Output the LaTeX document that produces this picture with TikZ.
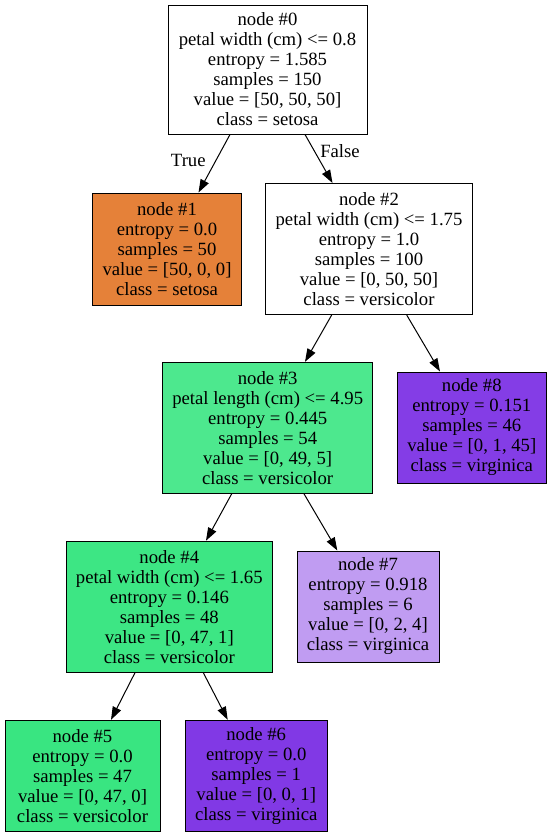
\documentclass[tikz,border=0pt]{standalone}
\usepackage{fontspec}
\setmainfont{Liberation Serif}
\usetikzlibrary{arrows.meta,calc}
\definecolor{cOrange}{HTML}{E58139}
\definecolor{cGreenA}{HTML}{4DE88E}
\definecolor{cGreenB}{HTML}{3DE684}
\definecolor{cGreenC}{HTML}{39E581}
\definecolor{cPurpleA}{HTML}{8139E5}
\definecolor{cPurpleB}{HTML}{C09CF2}
\definecolor{cPurpleC}{HTML}{843DE6}
\begin{document}
\begin{tikzpicture}[x=1pt,y=1pt,
  treenode/.style={draw=black, line width=1pt, rectangle, inner sep=0pt, align=center,
    font=\fontsize{18.7}{20}\selectfont},
  edge/.style={line width=1pt, -{Triangle[length=13pt,width=9pt]}},
  elabel/.style={font=\fontsize{18.7}{20}\selectfont, inner sep=0pt}]
\useasboundingbox (0,0) rectangle (552,-836);
\fill[white] (0,0) rectangle (552,-836);

\node[treenode, fill=white, minimum width=199pt, minimum height=129pt] (n0) at (267.5,-69.5)
  {node \#0\\petal width (cm) <= 0.8\\entropy = 1.585\\samples = 150\\value = [50, 50, 50]\\class = setosa};
\node[treenode, fill=cOrange, minimum width=149pt, minimum height=112pt] (n1) at (167,-249)
  {node \#1\\entropy = 0.0\\samples = 50\\value = [50, 0, 0]\\class = setosa};
\node[treenode, fill=white, minimum width=207pt, minimum height=131pt] (n2) at (369,-249)
  {node \#2\\petal width (cm) <= 1.75\\entropy = 1.0\\samples = 100\\value = [0, 50, 50]\\class = versicolor};
\node[treenode, fill=cGreenA, minimum width=210pt, minimum height=131pt] (n3) at (267.7,-427.8)
  {node \#3\\petal length (cm) <= 4.95\\entropy = 0.445\\samples = 54\\value = [0, 49, 5]\\class = versicolor};
\node[treenode, fill=cPurpleC, minimum width=149pt, minimum height=111pt] (n8) at (471.8,-427.5)
  {node \#8\\entropy = 0.151\\samples = 46\\value = [0, 1, 45]\\class = virginica};
\node[treenode, fill=cGreenB, minimum width=206pt, minimum height=131pt] (n4) at (169.3,-606.7)
  {node \#4\\petal width (cm) <= 1.65\\entropy = 0.146\\samples = 48\\value = [0, 47, 1]\\class = versicolor};
\node[treenode, fill=cPurpleB, minimum width=142pt, minimum height=111pt] (n7) at (368,-606.5)
  {node \#7\\entropy = 0.918\\samples = 6\\value = [0, 2, 4]\\class = virginica};
\node[treenode, fill=cGreenC, minimum width=155pt, minimum height=111pt] (n5) at (82.5,-775.8)
  {node \#5\\entropy = 0.0\\samples = 47\\value = [0, 47, 0]\\class = versicolor};
\node[treenode, fill=cPurpleA, minimum width=142pt, minimum height=111pt] (n6) at (256.2,-775.8)
  {node \#6\\entropy = 0.0\\samples = 1\\value = [0, 0, 1]\\class = virginica};

\draw[edge] ([xshift=-37.5pt]n0.south) -- ([xshift=31.5pt]n1.north);
\draw[edge] ([xshift=37.5pt]n0.south) -- ([xshift=-36.5pt]n2.north);
\draw[edge] ([xshift=-37.3pt]n2.south) -- ([xshift=37.3pt]n3.north);
\draw[edge] ([xshift=37.7pt]n2.south) -- ([xshift=-31.8pt]n8.north);
\draw[edge] ([xshift=-36pt]n3.south) -- ([xshift=36.7pt]n4.north);
\draw[edge] ([xshift=36.3pt]n3.south) -- ([xshift=-30.7pt]n7.north);
\draw[edge] ([xshift=-34.3pt]n4.south) -- ([xshift=28.5pt]n5.north);
\draw[edge] ([xshift=34pt]n4.south) -- ([xshift=-28.5pt]n6.north);

\node[elabel] (lt) at (188.3,-160) {True};
\node[elabel] (lf) at (340,-151) {False};
\end{tikzpicture}
\end{document}
